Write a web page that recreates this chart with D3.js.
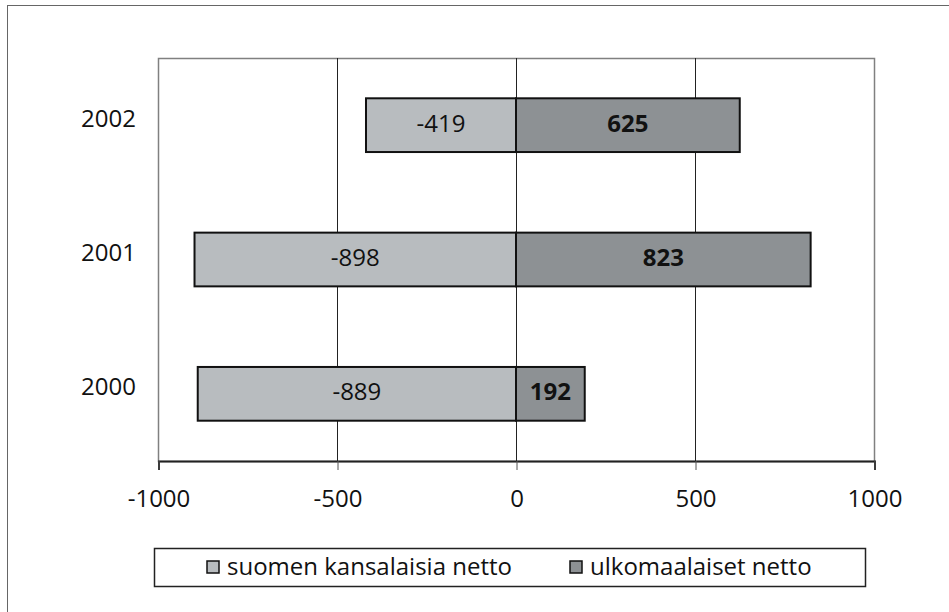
<!DOCTYPE html>
<html>
<head>
<meta charset="utf-8">
<script src="https://cdn.jsdelivr.net/npm/d3@7"></script>
<style>
  body { margin: 0; background: #fff; }
  svg { display: block; font-family: "Open Sans", "Noto Sans", sans-serif; }
</style>
</head>
<body>
<div id="chart"></div>
<script>
const years = ['2002', '2001', '2000'];
const finns = [-419, -898, -889];
const foreigners = [625, 823, 192];
const seriesNames = ['suomen kansalaisia netto', 'ulkomaalaiset netto'];
const xTicks = [-1000, -500, 0, 500, 1000];

const width = 949, height = 612;
const margin = { top: 58, right: 75, bottom: 151, left: 158 };
const colors = ['#b8bcbf', '#8d9194'];
const fontSize = 24;

const svg = d3.select('#chart').append('svg')
  .attr('width', width)
  .attr('height', height);

// outer frame
svg.append('rect')
  .attr('x', 7.5).attr('y', 5.5)
  .attr('width', 960).attr('height', 640)
  .attr('fill', 'none')
  .attr('stroke', '#666');

const x = d3.scaleLinear()
  .domain([-1000, 1000])
  .range([margin.left, width - margin.right]);

const y = d3.scaleBand()
  .domain(years)
  .range([margin.top, height - margin.bottom])
  .paddingInner(0.6)
  .paddingOuter(0.3);

const plotTop = margin.top, plotBottom = height - margin.bottom;

// plot border (grey)
svg.append('rect')
  .attr('x', x(-1000) + 0.5).attr('y', plotTop + 0.5)
  .attr('width', x(1000) - x(-1000)).attr('height', plotBottom - plotTop)
  .attr('fill', 'none')
  .attr('stroke', '#808080')
  .attr('stroke-width', 1.5);

// gridlines
svg.selectAll('line.grid')
  .data(xTicks.slice(1, -1))
  .enter().append('line')
  .attr('class', 'grid')
  .attr('x1', d => Math.round(x(d)) + 0.5)
  .attr('x2', d => Math.round(x(d)) + 0.5)
  .attr('y1', plotTop)
  .attr('y2', plotBottom)
  .attr('stroke', '#222')
  .attr('stroke-width', 1);

const rows = years.map((yr, i) => ({ year: yr, values: [finns[i], foreigners[i]] }));

const bars = svg.selectAll('g.row')
  .data(rows)
  .enter().append('g')
  .attr('class', 'row');

bars.selectAll('rect')
  .data(d => d.values.map((v, j) => ({ year: d.year, v, j })))
  .enter().append('rect')
  .attr('x', d => x(Math.min(0, d.v)))
  .attr('y', d => y(d.year))
  .attr('width', d => Math.abs(x(d.v) - x(0)))
  .attr('height', y.bandwidth())
  .attr('fill', d => colors[d.j])
  .attr('stroke', '#111')
  .attr('stroke-width', 2);

bars.selectAll('text')
  .data(d => d.values.map((v, j) => ({ year: d.year, v, j })))
  .enter().append('text')
  .attr('x', d => (x(d.v) + x(0)) / 2)
  .attr('y', d => y(d.year) + y.bandwidth() / 2 - 2)
  .attr('dy', '0.35em')
  .attr('text-anchor', 'middle')
  .attr('font-size', fontSize)
  .attr('font-weight', d => d.j === 1 ? 'bold' : 'normal')
  .attr('fill', '#111')
  .text(d => d.v);

// x axis
const xAxis = d3.axisBottom(x)
  .tickValues(xTicks)
  .tickSize(9)
  .tickPadding(20)
  .tickFormat(d => String(d));

const gx = svg.append('g')
  .attr('transform', `translate(0.5, ${plotBottom})`)
  .call(xAxis);
gx.select('.domain').attr('stroke', '#222').attr('stroke-width', 2);
gx.selectAll('.tick line').attr('stroke', '#555');
gx.selectAll('.tick text')
  .attr('font-size', fontSize)
  .attr('fill', '#111')
  .attr('font-family', '"Open Sans", "Noto Sans", sans-serif');

// y labels
svg.selectAll('text.ylab')
  .data(years)
  .enter().append('text')
  .attr('class', 'ylab')
  .attr('x', 136)
  .attr('y', d => y(d) + y.bandwidth() / 2 - 7)
  .attr('dy', '0.35em')
  .attr('text-anchor', 'end')
  .attr('font-size', fontSize)
  .attr('fill', '#111')
  .text(d => d);

// legend
const legend = svg.append('g');
legend.append('rect')
  .attr('x', 154.5).attr('y', 548.5)
  .attr('width', 711).attr('height', 38)
  .attr('fill', '#fff')
  .attr('stroke', '#222')
  .attr('stroke-width', 1.5);

const legendX = [207, 570];
const items = legend.selectAll('g.item')
  .data(seriesNames)
  .enter().append('g')
  .attr('class', 'item')
  .attr('transform', (d, i) => `translate(${legendX[i]}, 567)`);

items.append('rect')
  .attr('x', 0).attr('y', -6)
  .attr('width', 12).attr('height', 12)
  .attr('fill', (d, i) => colors[i])
  .attr('stroke', '#111')
  .attr('stroke-width', 1.5);

items.append('text')
  .attr('x', 20)
  .attr('dy', '0.35em')
  .attr('font-size', fontSize)
  .attr('fill', '#111')
  .text(d => d);
</script>
</body>
</html>
